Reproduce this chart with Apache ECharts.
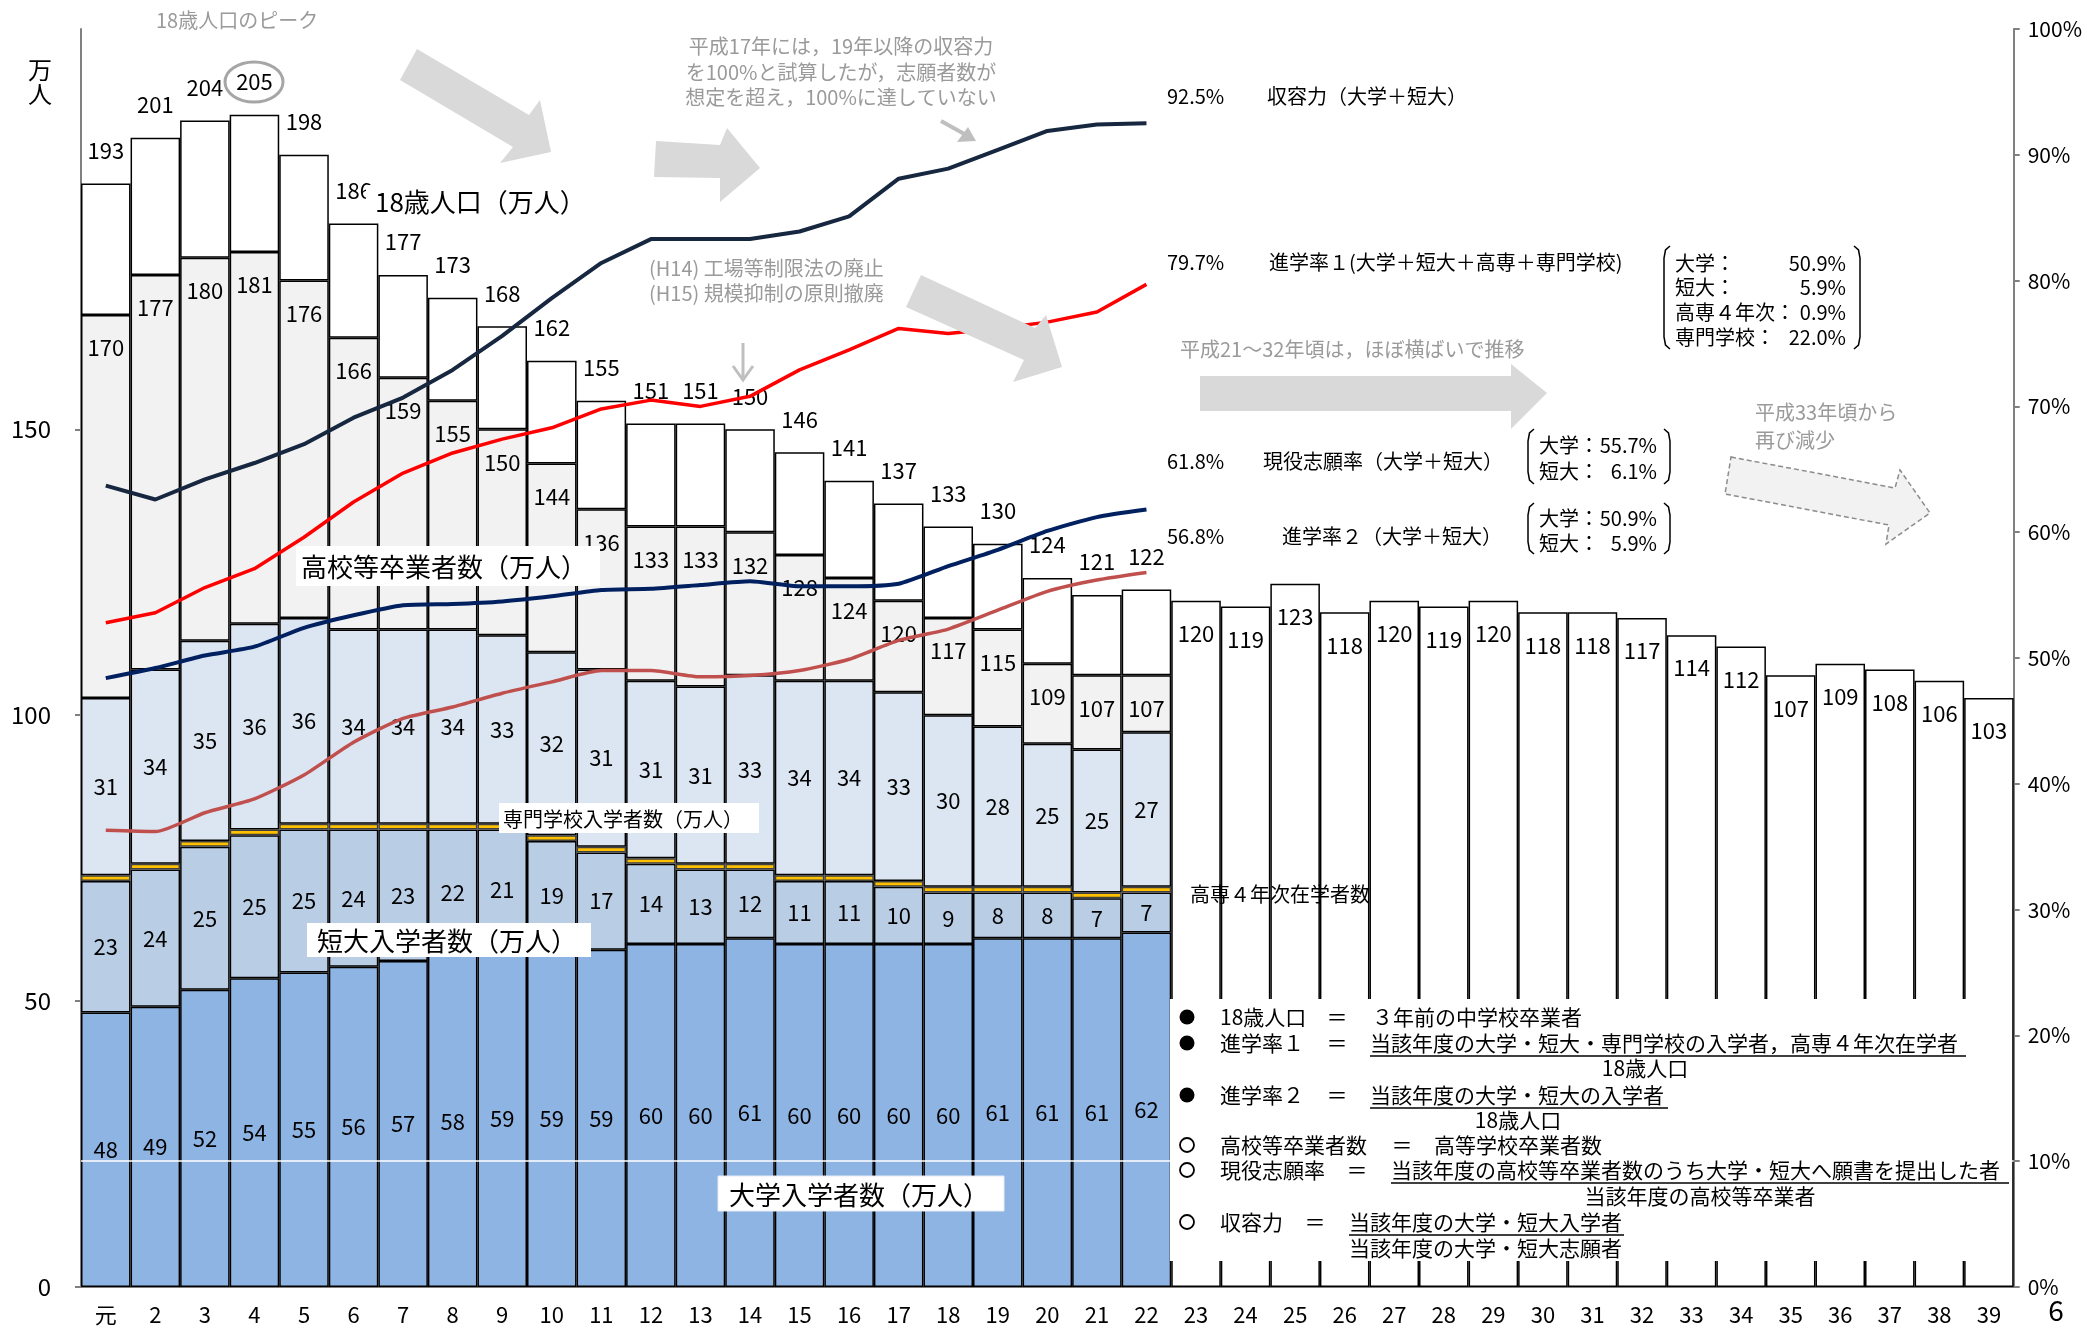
<!DOCTYPE html>
<html><head><meta charset="utf-8">
<script src="https://cdn.jsdelivr.net/npm/echarts@6/dist/echarts.min.js"></script>
<style>html,body{margin:0;padding:0;background:#fff}#c{width:2085px;height:1329px}</style>
</head><body><div id="c"></div>
<script>
// ---- data ----
const years = ['元','2','3','4','5','6','7','8','9','10','11','12','13','14','15','16','17','18','19','20','21','22','23','24','25','26','27','28','29','30','31','32','33','34','35','36','37','38','39'];
const pop18 = [193,201,204,205,198,186,177,173,168,162,155,151,151,150,146,141,137,133,130,124,121,122,120,119,123,118,120,119,120,118,118,117,114,112,107,109,108,106,103];
const kokoGrad = [170,177,180,181,176,166,159,155,150,144,136,133,133,132,128,124,120,117,115,109,107,107];
const daigaku = [48,49,52,54,55,56,57,58,59,59,59,60,60,61,60,60,60,60,61,61,61,62];
const tandai = [23,24,25,25,25,24,23,22,21,19,17,14,13,12,11,11,10,9,8,8,7,7];
const kosen4 = [1,1,1,1,1,1,1,1,1,1,1,1,1,1,1,1,1,1,1,1,1,1];
const senmon = [31,34,35,36,36,34,34,34,33,32,31,31,31,33,34,34,33,30,28,25,25,27];
const shuyoryoku = [63.7,62.6,64.2,65.5,67.0,69.1,70.7,72.9,75.6,78.6,81.4,83.3,83.3,83.3,83.9,85.1,88.1,88.9,90.4,91.9,92.4,92.5];
const shingaku1 = [52.8,53.6,55.6,57.1,59.6,62.4,64.7,66.3,67.4,68.3,69.8,70.5,70.0,70.8,72.9,74.5,76.2,75.8,76.2,76.7,77.5,79.7];
const genneki = [48.4,49.2,50.2,50.9,52.4,53.4,54.2,54.3,54.5,54.9,55.4,55.5,55.8,56.1,55.7,55.7,55.9,57.3,58.6,60.1,61.2,61.8];
const shingaku2 = [36.3,36.2,37.7,38.8,40.7,43.3,45.2,46.1,47.2,48.1,49.0,49.0,48.5,48.6,49.0,49.9,51.4,52.3,53.8,55.3,56.2,56.8];
const leftTicks = [0,50,100,150,200];

// ---- derived stacks ----
const NP = kokoGrad.length;
const kokoRest = kokoGrad.map((v,i)=> v - (daigaku[i]+kosen4[i]+tandai[i]+senmon[i]));
const popRest = pop18.map((v,i)=> i < NP ? v - kokoGrad[i] : v);

const F = "'Noto Sans CJK JP','Noto Sans',sans-serif";
const BORDER = {borderColor:'#000', borderWidth:1.5};
const lblInside = {show:true, position:'inside', color:'#000', fontSize:22, fontFamily:F};

const popData = popRest.map((v,i)=>({
  value:v,
  label: i < NP ? {position:'top', distance:22} : {position:'insideTop', distance:22}
}));

function T(x,y,text,size,opt){
  opt = opt||{};
  return {type:'text', x:x, y:y, z:101, silent:true,
    style:{text:text, font:(opt.weight||'normal')+' '+size+'px '+F, fill:opt.fill||'#000',
      textAlign:opt.align||'left', textVerticalAlign:'middle'}};
}
function R(x,y,w,h,fill,stroke){
  return {type:'rect', z:100, silent:true, shape:{x:x,y:y,width:w,height:h},
    style:{fill:fill||'#fff', stroke:stroke||null, lineWidth:1}};
}
function P(points,fill,stroke,dash){
  return {type:'polygon', z:100, silent:true, shape:{points:points},
    style:{fill:fill, stroke:stroke||null, lineWidth:stroke?1.5:0, lineDash:dash||null}};
}
function L(x1,y1,x2,y2,color,w){
  return {type:'line', z:101, silent:true, shape:{x1:x1,y1:y1,x2:x2,y2:y2}, style:{stroke:color||'#000', lineWidth:w||1.5}};
}
function PL(points,color,w){
  return {type:'polyline', z:101, silent:true, shape:{points:points}, style:{stroke:color||'#000', lineWidth:w||1.5, fill:null}};
}
function DOT(cx,cy,filled){
  return {type:'circle', z:101, silent:true, shape:{cx:cx,cy:cy,r:filled?7.5:7},
    style:filled?{fill:'#000'}:{fill:'#fff', stroke:'#000', lineWidth:1.8}};
}
function bracketL(x,top,bot){ return PL([[x+6,top],[x+1.5,top+4],[x,top+12],[x,bot-12],[x+1.5,bot-4],[x+6,bot]],'#000',1.5); }
function bracketR(x,top,bot){ return PL([[x-6,top],[x-1.5,top+4],[x,top+12],[x,bot-12],[x-1.5,bot-4],[x-6,bot]],'#000',1.5); }

const GRAY = '#9a9a9a';
const ARROW = '#d9d9d9';
const graphics = [
  // axis unit
  T(40,70,'万',24,{align:'center'}), T(40,94,'人',24,{align:'center'}),
  // peak annotation
  T(156,20,'18歳人口のピーク',20,{fill:GRAY}),
  {type:'ellipse', z:101, silent:true, shape:{cx:254,cy:82,rx:29,ry:20}, style:{fill:null, stroke:'#a6a6a6', lineWidth:3}},
  // arrows
  P([[417,49],[529,115],[540,100],[551,152],[500,163],[513,147],[400,80]], ARROW),
  P([[656,141],[720,145],[727,128],[760,168],[720,202],[720,178],[654,177]], ARROW),
  P([[921,275],[1035,328],[1046,315],[1062,367],[1013,382],[1024,360],[906,307]], ARROW),
  P([[1200,376],[1511,376],[1511,364],[1547,393],[1511,429],[1511,411],[1200,411]], ARROW),
  P([[1731,457],[1895,488],[1900,470],[1930,513],[1886,544],[1889,525],[1725,494]], '#f2f2f2', '#8c8c8c', [5,3]),
  // small arrows
  L(941,121,968,136,'#bfbfbf',4), P([[976,141],[957,142],[968,127]], '#bfbfbf'),
  L(743,343,743,377,'#bfbfbf',3), PL([[733,366],[743,380],[753,366]],'#bfbfbf',3),
  // gray notes
  T(841,46,'平成17年には，19年以降の収容力',20,{fill:GRAY,align:'center'}),
  T(841,72,'を100%と試算したが，志願者数が',20,{fill:GRAY,align:'center'}),
  T(841,97,'想定を超え，100%に達していない',20,{fill:GRAY,align:'center'}),
  T(649,268,'(H14) 工場等制限法の廃止',20,{fill:GRAY}),
  T(649,293,'(H15) 規模抑制の原則撤廃',20,{fill:GRAY}),
  T(1180,349,'平成21～32年頃は，ほぼ横ばいで推移',20,{fill:GRAY}),
  T(1755,412,'平成33年頃から',20,{fill:GRAY}),
  T(1755,440,'再び減少',20,{fill:GRAY}),
  // in-chart labels with white background
  R(366,185,224,34), T(375,202,'18歳人口（万人）',26),
  R(296,546,304,40), T(301,567,'高校等卒業者数（万人）',26),
  R(499,803,260,30), T(503,819,'専門学校入学者数（万人）',20),
  R(307,923,284,34), T(317,941,'短大入学者数（万人）',26),
  R(718,1176,286,35,'#fff','#e4ecf6'), T(729,1195,'大学入学者数（万人）',26),
  T(1190,894,'高専４年次在学者数',20),
  // right side rate labels
  T(1167,96,'92.5%',20), T(1267,96,'収容力（大学＋短大）',20),
  T(1167,262,'79.7%',20), T(1269,262,'進学率１(大学＋短大＋高専＋専門学校)',20),
  bracketL(1664,246,349), bracketR(1860,246,349),
  T(1675,263,'大学：',20), T(1846,263,'50.9%',20,{align:'right'}),
  T(1675,287,'短大：',20), T(1846,287,'5.9%',20,{align:'right'}),
  T(1675,312,'高専４年次：',20), T(1846,312,'0.9%',20,{align:'right'}),
  T(1675,337,'専門学校：',20), T(1846,337,'22.0%',20,{align:'right'}),
  T(1167,461,'61.8%',20), T(1263,461,'現役志願率（大学＋短大）',20),
  bracketL(1528,429,484), bracketR(1670,429,484),
  T(1539,445,'大学：',20), T(1657,445,'55.7%',20,{align:'right'}),
  T(1539,471,'短大：',20), T(1657,471,'6.1%',20,{align:'right'}),
  T(1167,536,'56.8%',20), T(1282,536,'進学率２（大学＋短大）',20),
  bracketL(1528,503,554), bracketR(1670,503,554),
  T(1539,518,'大学：',20), T(1657,518,'50.9%',20,{align:'right'}),
  T(1539,543,'短大：',20), T(1657,543,'5.9%',20,{align:'right'}),
  // definitions box
  R(1170,999,842,262),
  DOT(1187,1017,true), T(1220,1017,'18歳人口',21), T(1337,1017,'＝',21,{align:'center'}), T(1372,1017,'３年前の中学校卒業者',21),
  DOT(1187,1043,true), T(1220,1043,'進学率１',21), T(1337,1043,'＝',21,{align:'center'}), T(1370,1043,'当該年度の大学・短大・専門学校の入学者，高専４年次在学者',21),
  L(1370,1056,1966,1056),
  T(1645,1068,'18歳人口',21,{align:'center'}),
  DOT(1187,1095,true), T(1220,1095,'進学率２',21), T(1337,1095,'＝',21,{align:'center'}), T(1370,1095,'当該年度の大学・短大の入学者',21),
  L(1370,1108,1668,1108),
  T(1518,1120,'18歳人口',21,{align:'center'}),
  DOT(1187,1145,false), T(1220,1145,'高校等卒業者数',21), T(1402,1145,'＝',21,{align:'center'}), T(1434,1145,'高等学校卒業者数',21),
  DOT(1187,1170,false), T(1220,1170,'現役志願率',21), T(1357,1170,'＝',21,{align:'center'}), T(1391,1170,'当該年度の高校等卒業者数のうち大学・短大へ願書を提出した者',21),
  L(1391,1183,2009,1183),
  T(1700,1196,'当該年度の高校等卒業者',21,{align:'center'}),
  DOT(1187,1222,false), T(1220,1222,'収容力',21), T(1315,1222,'＝',21,{align:'center'}), T(1349,1222,'当該年度の大学・短大入学者',21),
  L(1349,1235,1624,1235),
  T(1349,1248,'当該年度の大学・短大志願者',21),
  // clipped axis-end label
  T(2056,1310,'6',28,{align:'center'})
];

const chart = echarts.init(document.getElementById('c'), null, {renderer:'canvas'});
chart.setOption({
  animation:false,
  backgroundColor:'#fff',
  textStyle:{fontFamily:F},
  grid:{left:81, right:71, top:29, bottom:42, containLabel:false},
  xAxis:{type:'category', data:years, boundaryGap:true,
    axisLine:{lineStyle:{color:'#808080', width:2}}, axisTick:{show:false},
    axisLabel:{color:'#000', fontSize:22, fontFamily:F, margin:17, interval:0}},
  yAxis:[
    {type:'value', min:0, max:220, interval:50, position:'left',
     axisLine:{show:true, lineStyle:{color:'#808080', width:2}},
     axisTick:{show:true, length:6, lineStyle:{color:'#808080', width:2}, customValues:leftTicks},
     axisLabel:{color:'#000', fontSize:24, fontFamily:F, margin:30, customValues:leftTicks, showMaxLabel:false},
     splitLine:{show:false}},
    {type:'value', min:0, max:100, interval:10, position:'right',
     axisLine:{show:true, lineStyle:{color:'#808080', width:2}},
     axisTick:{show:true, length:6, lineStyle:{color:'#808080', width:2}},
     axisLabel:{color:'#000', fontSize:21, fontFamily:F, margin:14, formatter:'{value}%'},
     splitLine:{show:false}}
  ],
  series:[
    {name:'大学入学者数', type:'bar', stack:'a', barCategoryGap:'0%', data:daigaku,
     itemStyle:Object.assign({color:'#8eb4e3'},BORDER), label:lblInside,
     markLine:{silent:true, symbol:'none', label:{show:false}, data:[{yAxis:22}], lineStyle:{color:'#fff', width:1.5, type:'solid'}}},
    {name:'短大入学者数', type:'bar', stack:'a', barCategoryGap:'0%', data:tandai,
     itemStyle:Object.assign({color:'#b9cde5'},BORDER), label:lblInside},
    {name:'高専４年次在学者数', type:'bar', stack:'a', barCategoryGap:'0%', data:kosen4,
     itemStyle:{color:'#ffc000', borderColor:'#404040', borderWidth:1.5}},
    {name:'専門学校入学者数', type:'bar', stack:'a', barCategoryGap:'0%', data:senmon,
     itemStyle:Object.assign({color:'#dce6f2'},BORDER), label:lblInside},
    {name:'高校等卒業者数', type:'bar', stack:'a', barCategoryGap:'0%', data:kokoRest,
     itemStyle:Object.assign({color:'#f2f2f2'},BORDER),
     label:{show:true, position:'insideTop', distance:22, color:'#000', fontSize:22, fontFamily:F,
       formatter:p=>String(kokoGrad[p.dataIndex])}},
    {name:'18歳人口', type:'bar', stack:'a', barCategoryGap:'0%', data:popData,
     itemStyle:Object.assign({color:'#ffffff'},BORDER),
     label:{show:true, color:'#000', fontSize:22, fontFamily:F,
       formatter:p=>String(pop18[p.dataIndex])}},
    {name:'進学率２', type:'line', yAxisIndex:1, data:shingaku2, symbol:'none', smooth:0.2, z:5,
     lineStyle:{color:'#c0504d', width:3.5}},
    {name:'現役志願率', type:'line', yAxisIndex:1, data:genneki, symbol:'none', smooth:0.2, z:5,
     lineStyle:{color:'#002060', width:4}},
    {name:'進学率１', type:'line', yAxisIndex:1, data:shingaku1, symbol:'none', z:5,
     lineStyle:{color:'#ff0000', width:3.5}},
    {name:'収容力', type:'line', yAxisIndex:1, data:shuyoryoku, symbol:'none', z:5,
     lineStyle:{color:'#16273f', width:4}}
  ],
  graphic:{elements:graphics}
});
</script></body></html>
